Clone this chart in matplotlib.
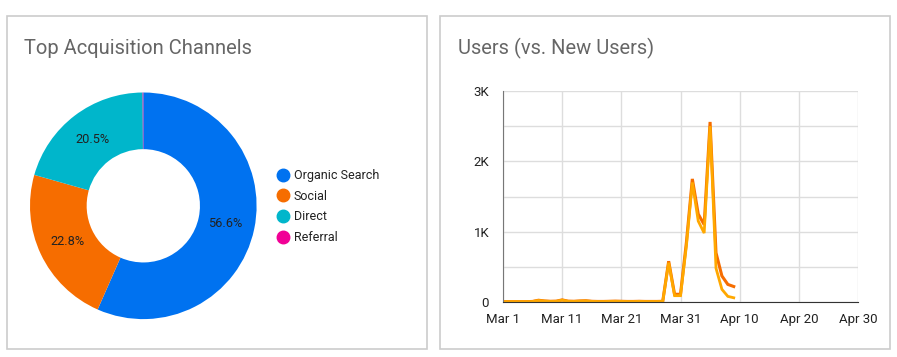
import datetime as dt
import matplotlib
matplotlib.use('Agg')
import matplotlib.pyplot as plt
from matplotlib.patches import Rectangle
from matplotlib.lines import Line2D
from matplotlib.ticker import MultipleLocator

plt.rcParams['font.family'] = ['Roboto', 'DejaVu Sans']

# donut data
channels = ['Organic Search', 'Social', 'Direct', 'Referral']
shares = [56.6, 22.8, 20.5, 0.1]
channel_colors = ['#0072f0', '#f66d00', '#00b6cb', '#f10096']

# users over time, Mar 1 .. Apr 9
start = dt.date(2020, 3, 1)
users = [5, 5, 5, 5, 5, 8, 25, 15, 10, 12, 30, 12, 10, 15, 18, 10, 8, 8, 10, 12,
         10, 8, 8, 10, 8, 8, 8, 10, 580, 110, 110, 850, 1750, 1250, 1100, 2560,
         700, 370, 250, 220]
new_users = [5, 5, 5, 5, 5, 7, 22, 13, 9, 10, 27, 10, 9, 13, 15, 9, 7, 7, 9, 10,
             9, 7, 7, 9, 7, 7, 7, 9, 560, 90, 90, 800, 1700, 1150, 980, 2500,
             480, 180, 80, 60]
dates = [start + dt.timedelta(days=i) for i in range(len(users))]
xtick_labels = ['Mar 1', 'Mar 11', 'Mar 21', 'Mar 31', 'Apr 10', 'Apr 20', 'Apr 30']
ytick_labels = ['0', '1K', '2K', '3K']

W, H = 897, 357
fig = plt.figure(figsize=(W / 100, H / 100), dpi=100)

def px(x0, y0, w, h):
    # pixel box (top-left origin) -> figure fraction
    return [x0 / W, 1 - (y0 + h) / H, w / W, h / H]

# cards
for x0, x1 in [(6.5, 426.5), (439.5, 889.5)]:
    fig.patches.append(Rectangle((x0 / W, 1 - 348.5 / H), (x1 - x0) / W, (348.5 - 16) / H,
                                 transform=fig.transFigure, facecolor='white',
                                 edgecolor='#cccccc', linewidth=1.2, zorder=-5))

fig.text(24 / W, 1 - 48 / H, 'Top Acquisition Channels', fontsize=14.5, color='#666666', va='center')
fig.text(458 / W, 1 - 48 / H, 'Users (vs. New Users)', fontsize=14.5, color='#666666', va='center')

# donut
R = 113.3
ax1 = fig.add_axes(px(143.3 - 1.2 * R, 205.8 - 1.2 * R, 2.4 * R, 2.4 * R))
wedges, texts, autotexts = ax1.pie(shares, colors=channel_colors, startangle=90, counterclock=False,
                                   wedgeprops=dict(width=0.5, linewidth=0), autopct='%.1f%%',
                                   pctdistance=0.74, textprops=dict(fontsize=9.2, color='#222222'))
autotexts[3].set_text('')
ax1.set_xlim(-1.2, 1.2)
ax1.set_ylim(-1.2, 1.2)
ax1.set_aspect('equal')
ax1.axis('off')

handles = [Line2D([], [], marker='o', linestyle='', markersize=9, color=c) for c in channel_colors]
fig.legend(handles, channels, loc='upper left', bbox_to_anchor=(278 / W, 1 - 169 / H),
           frameon=False, fontsize=9, handlelength=0.8, handletextpad=0.45,
           labelspacing=0.62, borderpad=0, borderaxespad=0, labelcolor='#222222')

# line chart
ax2 = fig.add_axes(px(503, 91, 355, 211))
ax2.plot(dates, users, color='#f66d00', linewidth=2.2, solid_joinstyle='miter')
ax2.plot(dates, new_users, color='#ffa800', linewidth=2.0, solid_joinstyle='miter')
ax2.set_xlim(dt.date(2020, 3, 1), dt.date(2020, 4, 30))
ax2.set_ylim(0, 3000)
xt = [dt.date(2020, 3, 1) + dt.timedelta(days=10 * i) for i in range(7)]
ax2.set_xticks(xt)
ax2.set_xticklabels(xtick_labels)
ax2.set_yticks([0, 1000, 2000, 3000])
ax2.set_yticklabels(ytick_labels)
ax2.yaxis.set_minor_locator(MultipleLocator(500))
ax2.grid(True, which='both', color='#dddddd', linewidth=1)
ax2.set_axisbelow(True)
ax2.tick_params(length=0, labelsize=9.5, labelcolor='#222222')
ax2.tick_params(which='minor', length=0)
ax2.tick_params(axis='x', pad=8)
ax2.tick_params(axis='y', pad=10)
for s in ['top', 'right']:
    ax2.spines[s].set_visible(False)
ax2.spines['left'].set_color('#777777')
ax2.spines['bottom'].set_color('#333333')

fig.savefig('out.png', dpi=100)
